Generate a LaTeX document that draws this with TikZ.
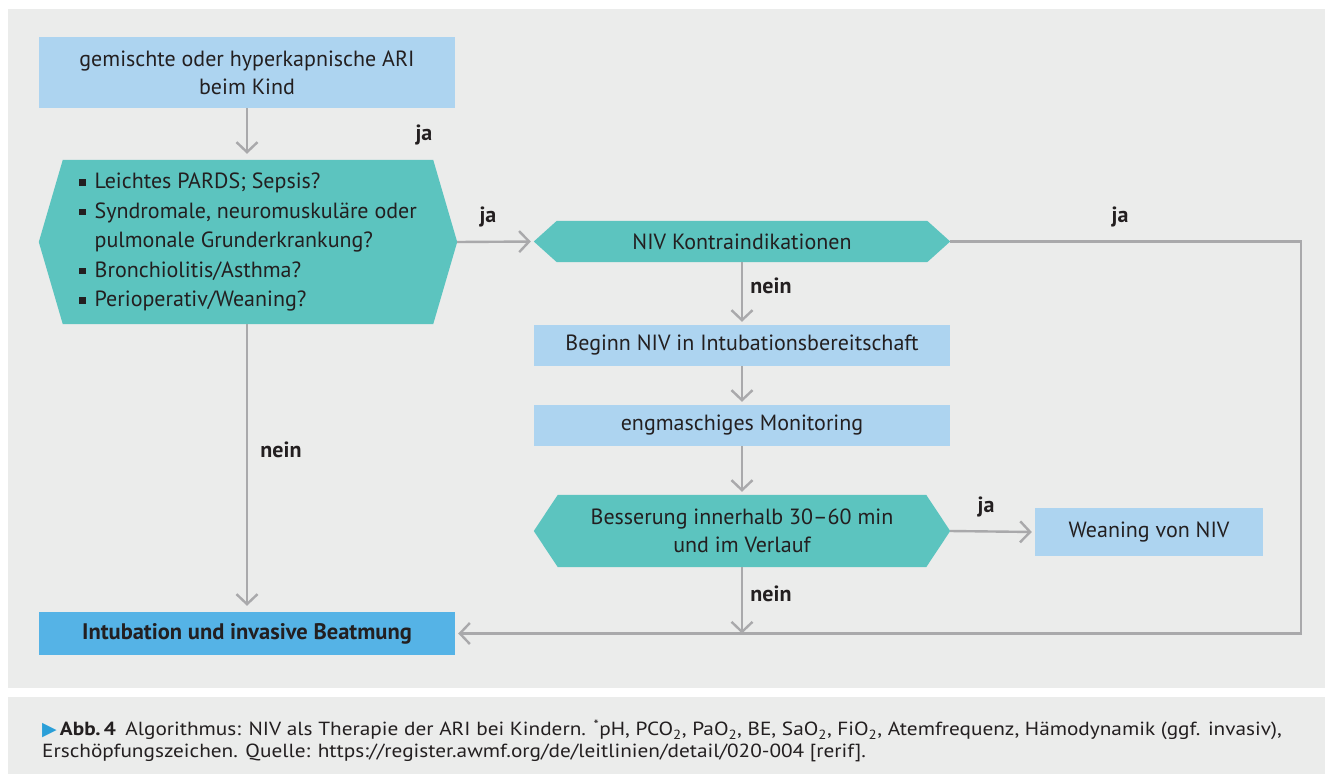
\documentclass[tikz,border=0pt]{standalone}
\usepackage{fontspec}
\setmainfont{PT Sans}
\newfontfamily\capfont[FakeStretch=1.12]{PT Sans}
\newfontfamily\symfont{DejaVu Sans}
\usetikzlibrary{arrows.meta,backgrounds}

\definecolor{bggray}{HTML}{EBECEB}
\definecolor{lightblue}{HTML}{ADD4F0}
\definecolor{tealc}{HTML}{5CC4BF}
\definecolor{darkblue}{HTML}{55B3E6}
\definecolor{arrowgray}{HTML}{A9A9AB}
\definecolor{textc}{HTML}{231F20}
\definecolor{capblue}{HTML}{2A9FD8}

\newcommand{\sqbul}{\rule[3pt]{6.5pt}{6.5pt}}
\newcommand{\hexfill}[2]{\fill[tealc] (#1.west) -- ([xshift=#2]#1.north west) -- ([xshift=-#2]#1.north east) -- (#1.east) -- ([xshift=-#2]#1.south east) -- ([xshift=#2]#1.south west) -- cycle;}

\tikzset{
  box/.style={fill=lightblue, minimum width=416pt, minimum height=41pt, inner sep=0pt,
    text=textc, font=\fontsize{22}{28}\selectfont, align=center},
  hexbox/.style={box, fill=none},
  lbl/.style={font=\fontsize{22}{24}\selectfont\bfseries, text=textc, inner sep=0pt},
  arr/.style={draw=arrowgray, line width=2.4pt, -{Straight Barb[length=10pt,width=21pt]}, shorten >=3pt}
}

\begin{document}
\begin{tikzpicture}[x=1pt,y=-1pt]
\useasboundingbox (0,0) rectangle (1325,774);

\node[box, minimum height=71pt] (start) at (247,72.5) {gemischte oder hyperkapnische ARI\\beim Kind};
\node[hexbox, minimum width=418pt, minimum height=164pt, font=\fontsize{22}{29.5}\selectfont] (crit) at (248,242)
  {\begin{tabular}{@{}l@{\hspace{9pt}}l@{}}
   \sqbul & Leichtes PARDS; Sepsis?\\
   \sqbul & Syndromale, neuromuskuläre oder\\
          & pulmonale Grunderkrankung?\\
   \sqbul & Bronchiolitis/Asthma?\\
   \sqbul & Perioperativ/Weaning?
   \end{tabular}};
\node[hexbox] (kontra) at (742,241.5) {NIV Kontraindikationen};
\node[box] (beginn) at (742,345.5) {Beginn NIV in Intubationsbereitschaft};
\node[box] (monitor) at (742,425.5) {engmaschiges Monitoring};
\node[hexbox, minimum height=72pt] (besser) at (742,531) {Besserung innerhalb 30–60 min\\und im Verlauf};
\node[box, minimum width=228pt, minimum height=48pt] (wean) at (1149,532) {Weaning von NIV};
\node[box, fill=darkblue, minimum height=43pt, font=\fontsize{22.5}{28}\selectfont\bfseries] (intub) at (247,633.5) {Intubation und invasive Beatmung};

\coordinate (corner) at (1301,241.5);
\coordinate (joint) at (besser.south |- intub.east);

\draw[arr, shorten >=6pt] (start) -- (crit.north -| start.south);
\draw[arr] (crit.east) -- (kontra.west);
\draw[arr] (kontra) -- (beginn);
\draw[arr] (beginn) -- (monitor);
\draw[arr] (monitor) -- (besser);
\draw[arr] (besser.east) -- (wean.west);
\draw[arr, shorten >=0pt] (besser.south) -- (joint);
\draw[arr, shorten >=6pt] (crit.south -| intub.north) -- (intub.north);
\draw[arr] (kontra.east) -- (corner) |- (intub.east);

\node[lbl] (ja1) at (424,135) {ja};
\node[lbl] (ja2) at (488,217) {ja};
\node[lbl] (ja3) at (1120,217) {ja};
\node[lbl] (nein1) at (771,286) {nein};
\node[lbl] (nein2) at (281,450) {nein};
\node[lbl] (ja4) at (986,507) {ja};
\node[lbl] (nein3) at (771,594) {nein};

\node[anchor=north west, inner sep=0pt, align=left, text=textc, font=\capfont\fontsize{19}{21.5}\selectfont] (caption) at (42,720)
  {{\symfont\color{capblue}\fontsize{19}{19}\selectfont ▶}\,\textbf{Abb.\,4}\enspace Algorithmus: NIV als Therapie der ARI bei Kindern. \textsuperscript{*}pH, PCO\textsubscript{2}, PaO\textsubscript{2}, BE, SaO\textsubscript{2}, FiO\textsubscript{2}, Atemfrequenz, Hämodynamik (ggf. invasiv),\\
   Erschöpfungszeichen. Quelle: https://register.awmf.org/de/leitlinien/detail/020-004 [rerif].};

\begin{scope}[on background layer]
\fill[bggray] (8,9) rectangle (1325,688);
\fill[bggray] (8,697) rectangle (1325,774);
\hexfill{crit}{24}
\hexfill{kontra}{23}
\hexfill{besser}{24}
\end{scope}
\end{tikzpicture}
\end{document}
